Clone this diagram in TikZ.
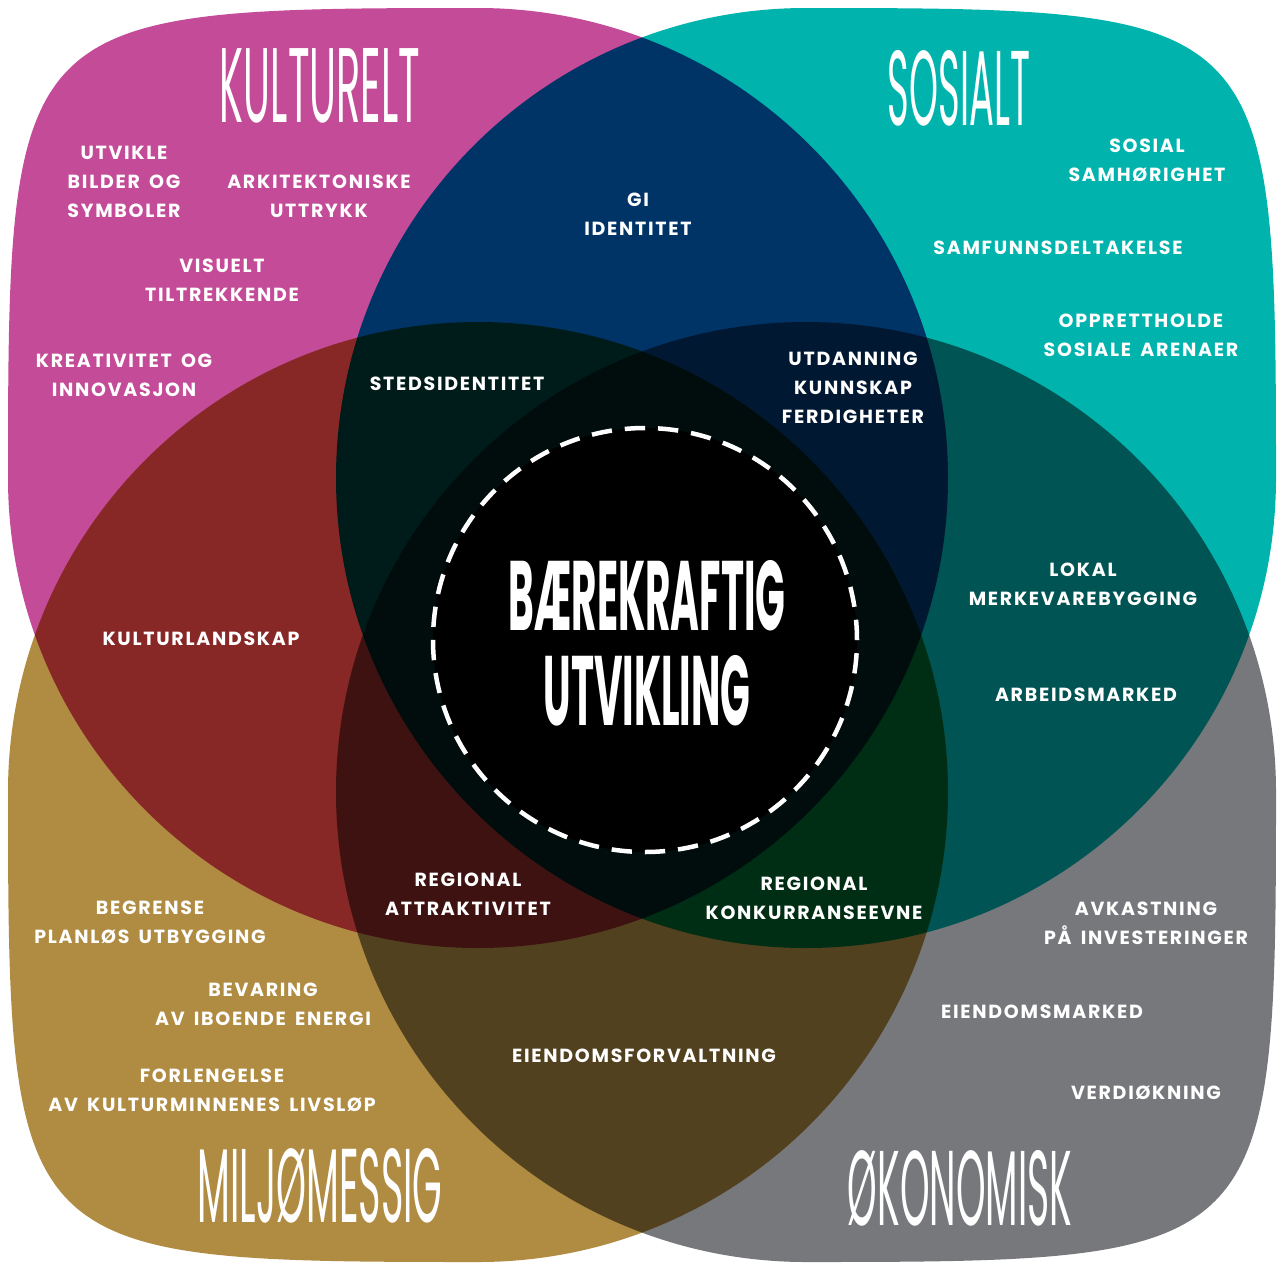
\documentclass[tikz,border=0pt]{standalone}
\usepackage{fontspec}
\usepackage{graphicx}
\setmainfont{Poppins}
\newfontfamily\lblfont[LetterSpace=9,WordSpace=1.6]{Poppins}
\newfontfamily\ttlfont{Poppins}
\definecolor{kultur}{HTML}{C44B98}
\definecolor{sosial}{HTML}{00B4AD}
\definecolor{miljo}{HTML}{B08B42}
\definecolor{okonomi}{HTML}{77787B}
\tikzset{
    petal/.style={blend mode=multiply},
    lbl/.style={text=white,align=center,inner sep=0pt,font=\lblfont\bfseries\fontsize{19}{29}\selectfont},
    heading/.style={text=white,inner sep=0pt,anchor=base},
    core/.style={circle,fill=black,draw=white,line width=4.5pt,dash pattern=on 20.3pt off 13pt,minimum size=424pt,inner sep=0pt}
}

\begin{document}
\begin{tikzpicture}[x=1pt,y=-1pt]

    \fill[white] (0,0) rectangle (1282,1267);
    \useasboundingbox (0,0) rectangle (1282,1267);

    \fill[petal,kultur]  (8,478) .. controls (8,14) and (14,8) .. (478,8) arc[start angle=-90,end angle=180,radius=470] -- cycle;
    \fill[petal,sosial]  (806,8) .. controls (1270,8) and (1276,14) .. (1276,478) arc[start angle=0,end angle=270,radius=470] -- cycle;
    \fill[petal,miljo]   (8,792) .. controls (8,1256) and (14,1262) .. (478,1262) arc[start angle=90,end angle=-180,radius=470] -- cycle;
    \fill[petal,okonomi] (1276,792) .. controls (1276,1256) and (1270,1262) .. (806,1262) arc[start angle=90,end angle=360,radius=470] -- cycle;

    \node[core] (core) at (645,640) {};

    \node[heading] (kulturelt)   at (320,122)  {\resizebox{200pt}{74pt}{\ttlfont KULTURELT}};
    \node[heading] (sosialt)     at (959,125)  {\resizebox{142pt}{75pt}{\ttlfont SOSIALT}};
    \node[heading] (miljo)       at (320,1222) {\resizebox{245pt}{74pt}{\ttlfont MILJØMESSIG}};
    \node[heading] (okonomisk)   at (960,1225) {\resizebox{224pt}{75pt}{\ttlfont ØKONOMISK}};
    \node[heading] (baerekraft)  at (647,630)  {\resizebox{277pt}{70pt}{\ttlfont\bfseries BÆREKRAFTIG}};
    \node[heading] (utvikling)   at (647,725)  {\resizebox{207pt}{70pt}{\ttlfont\bfseries UTVIKLING}};

    \node[lbl] (bilder)      at (124,182)  {UTVIKLE\\BILDER OG\\SYMBOLER};
    \node[lbl] (arkitekt)    at (319,196)  {ARKITEKTONISKE\\UTTRYKK};
    \node[lbl] (visuelt)     at (222,280)  {VISUELT\\TILTREKKENDE};
    \node[lbl] (kreativ)     at (124,375)  {KREATIVITET OG\\INNOVASJON};
    \node[lbl] (identitet)   at (638,214)  {GI\\IDENTITET};
    \node[lbl] (samhorig)    at (1147,160) {SOSIAL\\SAMHØRIGHET};
    \node[lbl] (deltak)      at (1058,248) {SAMFUNNSDELTAKELSE};
    \node[lbl] (arenaer)     at (1141,335) {OPPRETTHOLDE\\SOSIALE ARENAER};
    \node[lbl] (stedsid)     at (457,384)  {STEDSIDENTITET};
    \node[lbl] (utdanning)   at (853,388)  {UTDANNING\\KUNNSKAP\\FERDIGHETER};
    \node[lbl] (merkevare)   at (1083,584) {LOKAL\\MERKEVAREBYGGING};
    \node[lbl] (arbeid)      at (1086,695) {ARBEIDSMARKED};
    \node[lbl] (landskap)    at (201,639)  {KULTURLANDSKAP};
    \node[lbl] (attrakt)     at (468,894)  {REGIONAL\\ATTRAKTIVITET};
    \node[lbl] (konkurranse) at (814,898)  {REGIONAL\\KONKURRANSEEVNE};
    \node[lbl] (begrense)    at (150,922)  {BEGRENSE\\PLANLØS UTBYGGING};
    \node[lbl] (avkastning)  at (1146,923) {AVKASTNING\\PÅ INVESTERINGER};
    \node[lbl] (bevaring)    at (263,1004) {BEVARING\\AV IBOENDE ENERGI};
    \node[lbl] (forvaltning) at (644,1056) {EIENDOMSFORVALTNING};
    \node[lbl] (marked)      at (1042,1012) {EIENDOMSMARKED};
    \node[lbl] (forlengelse) at (212,1090) {FORLENGELSE\\AV KULTURMINNENES LIVSLØP};
    \node[lbl] (verdi)       at (1146,1093) {VERDIØKNING};

\end{tikzpicture}
\end{document}
